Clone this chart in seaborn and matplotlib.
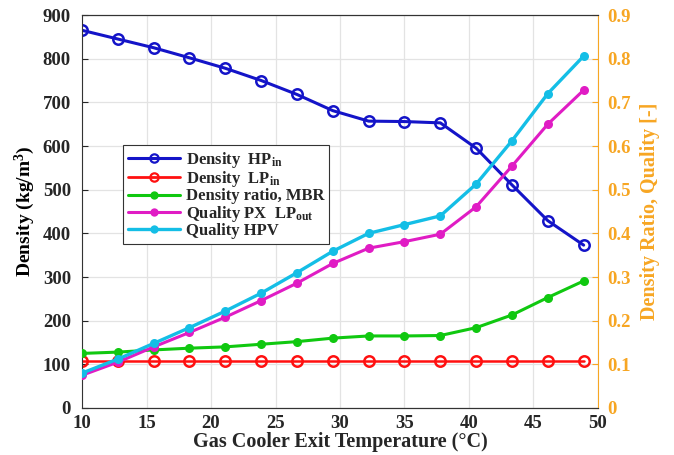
import matplotlib
matplotlib.use("Agg")
import matplotlib.pyplot as plt
import seaborn as sns
import pandas as pd
from matplotlib.lines import Line2D

# Gas cooler exit temperatures (°C), 50–120 °F in 5 °F steps
temperature = [10.0, 12.78, 15.56, 18.33, 21.11, 23.89, 26.67, 29.44,
               32.22, 35.0, 37.78, 40.56, 43.33, 46.11, 48.89]

density_hp_in = [865, 845, 825, 802, 778, 750, 718, 681,
                 657, 656, 653, 595, 511, 429, 373]
density_lp_in = [108, 108, 108, 108, 108, 108, 108, 108,
                 108, 108, 108, 108, 108, 108, 108]
density_ratio = [0.125, 0.128, 0.133, 0.137, 0.140, 0.146, 0.152, 0.160,
                 0.165, 0.165, 0.166, 0.184, 0.213, 0.253, 0.291]
quality_px_lp_out = [0.075, 0.105, 0.140, 0.173, 0.208, 0.246, 0.286, 0.331,
                     0.366, 0.381, 0.398, 0.461, 0.554, 0.650, 0.728]
quality_hpv = [0.080, 0.112, 0.148, 0.184, 0.222, 0.263, 0.310, 0.359,
               0.400, 0.420, 0.440, 0.513, 0.612, 0.720, 0.806]

left_ticks = [0, 100, 200, 300, 400, 500, 600, 700, 800, 900]
right_ticks = [0, 0.1, 0.2, 0.3, 0.4, 0.5, 0.6, 0.7, 0.8, 0.9]
right_tick_labels = ["0", "0.1", "0.2", "0.3", "0.4", "0.5", "0.6", "0.7", "0.8", "0.9"]
x_ticks = [10, 15, 20, 25, 30, 35, 40, 45, 50]

sns.set_style("white")
plt.rcParams["font.family"] = ["Liberation Serif", "DejaVu Serif"]
plt.rcParams["font.weight"] = "bold"
plt.rcParams["mathtext.fontset"] = "custom"
plt.rcParams["mathtext.rm"] = "Liberation Serif:bold"
plt.rcParams["mathtext.it"] = "Liberation Serif:bold"
plt.rcParams["mathtext.bf"] = "Liberation Serif:bold"

ORANGE = "#F7A623"
TICK = "#262626"
c_blue, c_red, c_green, c_mag, c_cyan = "#1414C8", "#FF1010", "#10C810", "#E01CC4", "#14BEE6"

df_left = pd.DataFrame({"T": temperature, "hp": density_hp_in, "lp": density_lp_in})
df_right = pd.DataFrame({"T": temperature, "ratio": density_ratio,
                         "px": quality_px_lp_out, "hpv": quality_hpv})

fig = plt.figure(figsize=(6.74, 4.55), dpi=100)
ax = fig.add_axes([0.1217, 0.1033, 0.7655, 0.8637])
ax2 = ax.twinx()

sns.lineplot(data=df_left, x="T", y="hp", ax=ax, color=c_blue, lw=2.2,
             marker="o", markersize=7.5, markerfacecolor="none",
             markeredgecolor=c_blue, markeredgewidth=1.8)
sns.lineplot(data=df_left, x="T", y="lp", ax=ax, color=c_red, lw=1.8,
             marker="o", markersize=7.5, markerfacecolor="none",
             markeredgecolor=c_red, markeredgewidth=1.8)
sns.lineplot(data=df_right, x="T", y="ratio", ax=ax2, color=c_green, lw=2.2,
             marker="o", markersize=6.5, markeredgewidth=0)
sns.lineplot(data=df_right, x="T", y="px", ax=ax2, color=c_mag, lw=2.2,
             marker="o", markersize=6.5, markeredgewidth=0)
sns.lineplot(data=df_right, x="T", y="hpv", ax=ax2, color=c_cyan, lw=2.4,
             marker="o", markersize=6.5, markeredgewidth=0)

ax.set_xlim(10, 50)
ax.set_ylim(0, 900)
ax2.set_ylim(0, 0.9)
ax.set_xticks(x_ticks)
ax.set_yticks(left_ticks)
ax2.set_yticks(right_ticks)
ax2.set_yticklabels(right_tick_labels)

ax.grid(True, color="#E3E3E3", lw=0.9)
ax.set_axisbelow(True)

for a in (ax, ax2):
    a.tick_params(direction="in", length=4, width=0.8, labelsize=13.5, pad=8)
    for lab in a.get_xticklabels() + a.get_yticklabels():
        lab.set_fontweight("bold")
ax.tick_params(colors=TICK)
ax.tick_params(axis="x", pad=5)
ax2.tick_params(axis="y", colors=ORANGE, pad=7)

for name in ("left", "bottom", "top"):
    ax.spines[name].set_color("#333333")
    ax.spines[name].set_linewidth(0.8)
ax2.spines["left"].set_visible(False)
ax2.spines["top"].set_color("#333333")
ax2.spines["top"].set_linewidth(0.8)
ax2.spines["bottom"].set_color("#333333")
ax2.spines["right"].set_color(ORANGE)
ax2.spines["right"].set_linewidth(0.8)
ax.spines["right"].set_visible(False)

ax.set_xlabel("Gas Cooler Exit Temperature (°C)", fontsize=14.5, fontweight="bold",
              color=TICK, labelpad=0)
ax.set_ylabel("Density (kg/m$^3$)", fontsize=14, fontweight="bold",
              color="black", labelpad=4)
ax2.set_ylabel("Density Ratio, Quality [-]", fontsize=14.5, fontweight="bold",
               color=ORANGE, labelpad=6)

handles = [
    Line2D([], [], color=c_blue, lw=2.2, marker="o", markersize=6,
           markerfacecolor="none", markeredgewidth=1.6),
    Line2D([], [], color=c_red, lw=2.0, marker="o", markersize=6,
           markerfacecolor="none", markeredgewidth=1.6),
    Line2D([], [], color=c_green, lw=2.2, marker="o", markersize=6, markeredgewidth=0),
    Line2D([], [], color=c_mag, lw=2.2, marker="o", markersize=6, markeredgewidth=0),
    Line2D([], [], color=c_cyan, lw=2.4, marker="o", markersize=6, markeredgewidth=0),
]
labels = ["Density  HP$_{\\rm in}$", "Density  LP$_{\\rm in}$",
          "Density ratio, MBR", "Quality PX  LP$_{\\rm out}$", "Quality HPV"]
leg = ax2.legend(handles, labels, loc="upper left", bbox_to_anchor=(0.0795, 0.669),
                 frameon=True, fancybox=False, framealpha=1, edgecolor="#333333",
                 prop={"family": "Liberation Serif", "weight": "bold", "size": 12},
                 handlelength=3.1, handletextpad=0.35, labelspacing=-0.05,
                 borderpad=0.3, borderaxespad=0)
leg.get_frame().set_linewidth(0.8)
for t in leg.get_texts():
    t.set_color(TICK)

fig.savefig("out.png", dpi=100)
